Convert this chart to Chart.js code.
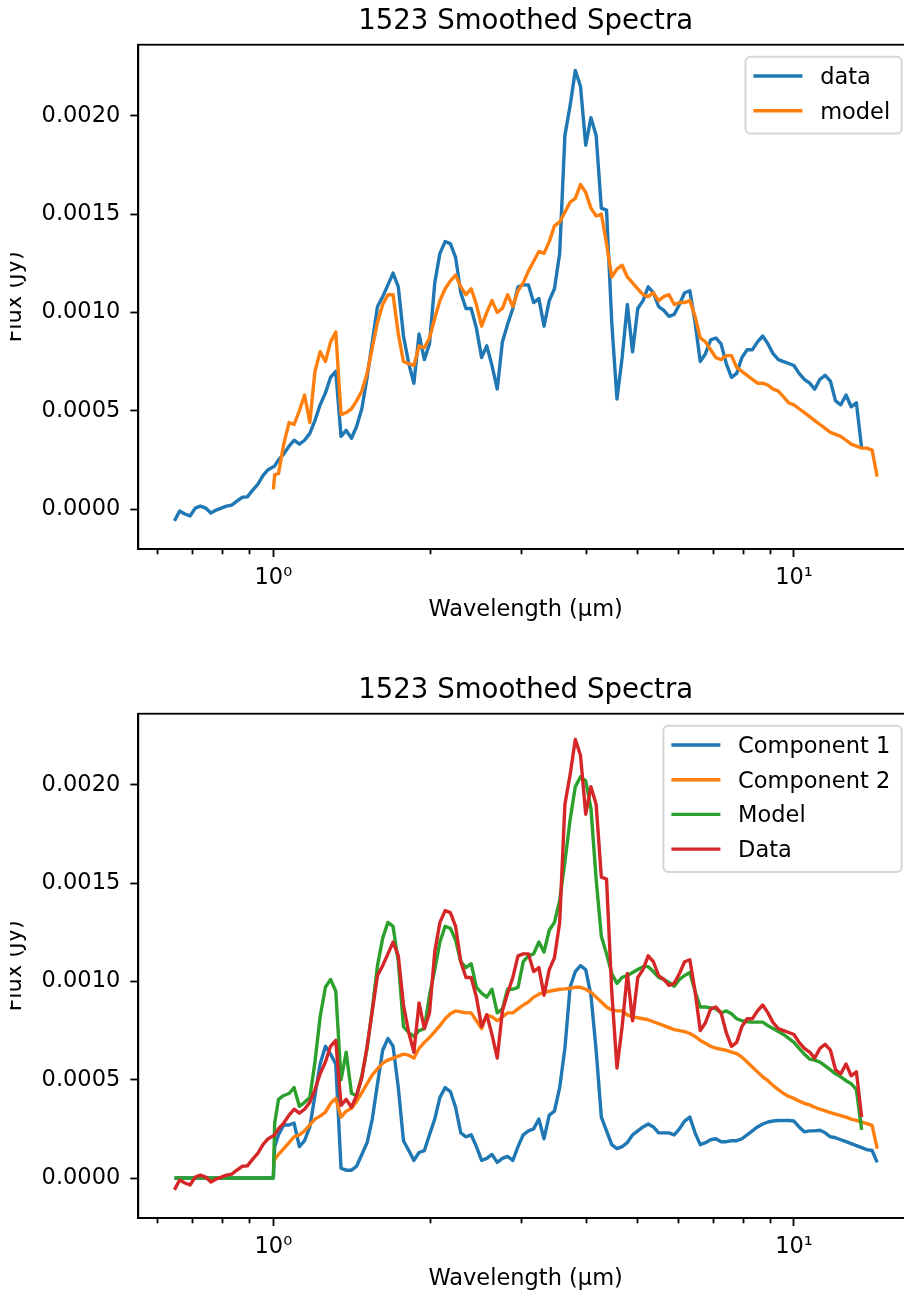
<!DOCTYPE html>
<html>
<head>
<meta charset="utf-8">
<title>1523 Smoothed Spectra</title>
<script src="https://cdn.jsdelivr.net/npm/chart.js@4.4.1/dist/chart.umd.min.js"></script>
<style>
  html, body { margin: 0; padding: 0; background: #fff; overflow: hidden; }
  body { width: 904px; height: 1294px; position: relative; }
  canvas { position: absolute; left: 10px; }
  #top { top: 0; }
  #bottom { top: 669px; }
</style>
</head>
<body>
<canvas id="top" width="910" height="625"></canvas>
<canvas id="bottom" width="910" height="625"></canvas>
<script>
// wavelength grid in micron
var wavelength = [0.6457,0.6607,0.6761,0.6918,0.7079,0.7244,0.7413,0.7586,0.7762,0.7943,0.8128,0.8318,0.8511,0.871,0.8913,0.912,0.9333,0.955,0.9772,
  1.0,1.006,1.023,1.047,1.072,1.096,1.122,1.148,1.175,1.202,1.23,1.259,1.288,1.318,1.349,1.38,1.413,1.445,1.479,1.514,1.549,
  1.585,1.622,1.66,1.698,1.738,1.778,1.82,1.862,1.905,1.95,1.995,2.042,2.089,2.138,2.188,2.239,2.291,2.344,2.399,2.455,
  2.512,2.57,2.63,2.692,2.754,2.818,2.884,2.951,3.02,3.09,3.162,3.236,3.311,3.388,3.467,3.548,3.631,3.715,3.802,3.89,
  3.981,4.074,4.169,4.266,4.365,4.467,4.571,4.677,4.786,4.898,5.012,5.129,5.248,5.37,5.495,5.623,5.754,5.888,6.026,6.166,
  6.31,6.457,6.607,6.761,6.918,7.079,7.244,7.413,7.586,7.762,7.943,8.128,8.318,8.511,8.71,8.913,9.12,9.333,9.55,9.772,
  10.0,10.23,10.47,10.72,10.96,11.22,11.48,11.75,12.02,12.3,12.59,12.88,13.18,13.49,13.8,14.13,14.45];

// smoothed fluxes in Jy
var dataFlux = [-0.6e-4,-0.1e-4,-0.25e-4,-0.35e-4,0.05e-4,0.15e-4,0.05e-4,-0.2e-4,-0.05e-4,0.05e-4,0.15e-4,0.2e-4,0.4e-4,0.6e-4,0.62e-4,0.95e-4,1.25e-4,1.7e-4,2.0e-4,
  2.15e-4,2.2e-4,2.5e-4,2.8e-4,3.2e-4,3.5e-4,3.3e-4,3.5e-4,3.85e-4,4.5e-4,5.3e-4,
  5.9e-4,6.7e-4,7.0e-4,3.7e-4,4.0e-4,3.6e-4,4.2e-4,5.1e-4,6.7e-4,8.5e-4,
  10.3e-4,10.8e-4,11.4e-4,12.0e-4,11.3e-4,8.8e-4,7.4e-4,6.4e-4,8.9e-4,7.6e-4,
  8.4e-4,11.5e-4,13.0e-4,13.6e-4,13.5e-4,12.8e-4,11.0e-4,10.2e-4,10.2e-4,9.2e-4,
  7.7e-4,8.3e-4,7.3e-4,6.1e-4,8.5e-4,9.4e-4,10.2e-4,11.3e-4,11.4e-4,11.4e-4,
  10.5e-4,10.7e-4,9.3e-4,10.6e-4,11.2e-4,13.0e-4,19.0e-4,20.5e-4,22.3e-4,21.5e-4,
  18.5e-4,19.9e-4,19.0e-4,15.3e-4,15.2e-4,9.5e-4,5.6e-4,7.7e-4,10.4e-4,8.0e-4,
  10.2e-4,10.6e-4,11.3e-4,11.0e-4,10.3e-4,10.1e-4,9.8e-4,9.9e-4,10.4e-4,11.0e-4,
  11.1e-4,9.5e-4,7.5e-4,7.9e-4,8.6e-4,8.7e-4,8.4e-4,7.4e-4,6.7e-4,6.9e-4,
  7.7e-4,8.1e-4,8.1e-4,8.5e-4,8.8e-4,8.4e-4,7.9e-4,7.6e-4,7.5e-4,7.4e-4,
  7.3e-4,6.9e-4,6.6e-4,6.4e-4,6.1e-4,6.6e-4,6.8e-4,6.5e-4,5.5e-4,5.3e-4,
  5.8e-4,5.2e-4,5.4e-4,3.1e-4,null,null,null];

var modelFlux = [null,null,null,null,null,null,null,null,null,null,null,null,null,null,null,null,null,null,null,
  1.0e-4,1.75e-4,1.8e-4,3.3e-4,4.4e-4,4.3e-4,5.0e-4,5.8e-4,4.4e-4,7.0e-4,8.0e-4,
  7.5e-4,8.5e-4,9.0e-4,4.8e-4,4.9e-4,5.1e-4,5.5e-4,6.0e-4,6.9e-4,8.2e-4,
  9.5e-4,10.4e-4,10.9e-4,10.9e-4,8.9e-4,7.5e-4,7.4e-4,7.3e-4,8.3e-4,8.2e-4,
  8.7e-4,9.7e-4,10.6e-4,11.2e-4,11.6e-4,11.9e-4,11.3e-4,10.9e-4,11.2e-4,10.4e-4,
  9.3e-4,10.0e-4,10.6e-4,10.0e-4,10.2e-4,10.9e-4,10.3e-4,11.1e-4,11.5e-4,12.1e-4,
  12.6e-4,13.1e-4,13.0e-4,13.6e-4,14.4e-4,14.6e-4,15.1e-4,15.6e-4,15.8e-4,16.5e-4,
  16.1e-4,15.3e-4,14.9e-4,15.0e-4,13.5e-4,11.8e-4,12.2e-4,12.4e-4,11.8e-4,11.5e-4,
  11.2e-4,10.9e-4,10.8e-4,11.0e-4,10.6e-4,10.8e-4,10.9e-4,10.4e-4,10.5e-4,10.5e-4,
  10.6e-4,9.8e-4,8.7e-4,8.5e-4,8.1e-4,7.7e-4,7.6e-4,7.8e-4,7.8e-4,7.2e-4,
  7.0e-4,6.8e-4,6.6e-4,6.4e-4,6.4e-4,6.3e-4,6.1e-4,6.0e-4,5.7e-4,5.4e-4,
  5.3e-4,5.1e-4,4.9e-4,4.7e-4,4.5e-4,4.3e-4,4.1e-4,3.9e-4,3.8e-4,3.7e-4,
  3.5e-4,3.3e-4,3.2e-4,3.1e-4,3.1e-4,3.0e-4,1.65e-4];

var comp1Flux = [0,0,0,0,0,0,0,0,0,0,0,0,0,0,0,0,0,0,0,
  0,1.6e-4,2.2e-4,2.7e-4,2.7e-4,2.8e-4,1.6e-4,1.9e-4,2.6e-4,4.2e-4,5.8e-4,
  6.7e-4,6.3e-4,5.8e-4,0.5e-4,0.4e-4,0.4e-4,0.6e-4,1.2e-4,1.8e-4,3.0e-4,
  4.8e-4,6.5e-4,7.1e-4,6.7e-4,4.6e-4,1.9e-4,1.4e-4,0.9e-4,1.3e-4,1.4e-4,
  2.2e-4,3.0e-4,4.1e-4,4.6e-4,4.4e-4,3.6e-4,2.3e-4,2.1e-4,2.2e-4,1.6e-4,
  0.9e-4,1.0e-4,1.2e-4,0.8e-4,1.0e-4,1.1e-4,0.9e-4,1.6e-4,2.2e-4,2.4e-4,
  2.5e-4,3.0e-4,2.0e-4,3.2e-4,3.4e-4,4.6e-4,6.6e-4,9.7e-4,10.5e-4,10.8e-4,
  10.6e-4,9.3e-4,6.5e-4,3.1e-4,2.4e-4,1.7e-4,1.5e-4,1.6e-4,1.8e-4,2.2e-4,
  2.4e-4,2.6e-4,2.75e-4,2.6e-4,2.3e-4,2.3e-4,2.3e-4,2.2e-4,2.5e-4,2.9e-4,
  3.1e-4,2.3e-4,1.7e-4,1.8e-4,1.95e-4,2.0e-4,1.85e-4,1.85e-4,1.9e-4,1.9e-4,
  2.0e-4,2.2e-4,2.4e-4,2.6e-4,2.75e-4,2.85e-4,2.9e-4,2.93e-4,2.93e-4,2.93e-4,
  2.9e-4,2.6e-4,2.35e-4,2.4e-4,2.4e-4,2.43e-4,2.3e-4,2.1e-4,2.05e-4,1.95e-4,
  1.85e-4,1.75e-4,1.65e-4,1.55e-4,1.45e-4,1.4e-4,0.8e-4];

var comp2Flux = [null,null,null,null,null,null,null,null,null,null,null,null,null,null,null,null,null,null,null,
  0.75e-4,0.95e-4,1.2e-4,1.5e-4,1.8e-4,2.1e-4,2.2e-4,2.4e-4,2.7e-4,3.0e-4,3.15e-4,
  3.35e-4,3.8e-4,4.05e-4,3.1e-4,3.4e-4,3.55e-4,3.9e-4,4.35e-4,4.8e-4,5.25e-4,
  5.55e-4,5.85e-4,6.0e-4,6.1e-4,6.2e-4,6.3e-4,6.25e-4,6.1e-4,6.6e-4,6.9e-4,
  7.15e-4,7.45e-4,7.75e-4,8.1e-4,8.35e-4,8.5e-4,8.45e-4,8.4e-4,8.4e-4,8.0e-4,
  7.6e-4,8.3e-4,8.2e-4,8.0e-4,8.2e-4,8.4e-4,8.4e-4,8.6e-4,8.8e-4,8.95e-4,
  9.2e-4,9.35e-4,9.45e-4,9.5e-4,9.55e-4,9.6e-4,9.62e-4,9.65e-4,9.7e-4,9.7e-4,
  9.6e-4,9.45e-4,9.2e-4,8.95e-4,8.7e-4,8.55e-4,8.5e-4,8.5e-4,8.3e-4,8.2e-4,
  8.15e-4,8.1e-4,8.05e-4,7.95e-4,7.85e-4,7.75e-4,7.65e-4,7.55e-4,7.5e-4,7.45e-4,
  7.35e-4,7.2e-4,7.0e-4,6.85e-4,6.7e-4,6.6e-4,6.55e-4,6.5e-4,6.4e-4,6.33e-4,
  6.15e-4,5.9e-4,5.65e-4,5.4e-4,5.15e-4,4.95e-4,4.7e-4,4.5e-4,4.3e-4,4.15e-4,
  4.05e-4,3.92e-4,3.8e-4,3.72e-4,3.6e-4,3.5e-4,3.42e-4,3.33e-4,3.25e-4,3.18e-4,
  3.1e-4,3.0e-4,2.93e-4,2.85e-4,2.77e-4,2.68e-4,1.5e-4];

var fitFlux = [0,0,0,0,0,0,0,0,0,0,0,0,0,0,0,0,0,0,0,
  0,2.8e-4,4.0e-4,4.2e-4,4.3e-4,4.6e-4,3.65e-4,3.85e-4,4.1e-4,5.9e-4,8.2e-4,
  9.7e-4,10.1e-4,9.5e-4,5.0e-4,6.4e-4,4.3e-4,4.2e-4,5.2e-4,6.6e-4,8.6e-4,
  10.8e-4,12.2e-4,13.0e-4,12.8e-4,11.0e-4,7.7e-4,7.4e-4,7.2e-4,7.5e-4,7.6e-4,
  9.3e-4,10.6e-4,12.0e-4,12.8e-4,12.7e-4,12.1e-4,11.0e-4,10.7e-4,10.9e-4,9.7e-4,
  9.4e-4,9.2e-4,9.6e-4,8.4e-4,8.6e-4,9.6e-4,9.6e-4,9.7e-4,11.0e-4,11.3e-4,
  11.4e-4,12.0e-4,11.5e-4,12.6e-4,13.0e-4,14.1e-4,16.1e-4,18.2e-4,19.9e-4,20.4e-4,
  20.2e-4,18.8e-4,15.2e-4,12.3e-4,11.4e-4,10.4e-4,9.9e-4,10.2e-4,10.3e-4,10.45e-4,
  10.6e-4,10.75e-4,10.75e-4,10.5e-4,10.2e-4,10.1e-4,9.95e-4,9.75e-4,10.1e-4,10.3e-4,
  10.45e-4,9.5e-4,8.7e-4,8.7e-4,8.65e-4,8.6e-4,8.4e-4,8.5e-4,8.35e-4,8.1e-4,
  8.0e-4,7.95e-4,7.93e-4,7.93e-4,7.93e-4,7.75e-4,7.6e-4,7.45e-4,7.3e-4,7.1e-4,
  6.9e-4,6.6e-4,6.3e-4,6.05e-4,6.0e-4,5.9e-4,5.7e-4,5.5e-4,5.3e-4,5.15e-4,
  4.95e-4,4.8e-4,4.5e-4,2.45e-4,null,null,null];

var xTicks = [0.6, 0.7, 0.8, 0.9, 1, 2, 3, 4, 5, 6, 7, 8, 9, 10];
var yTicks = [0, 0.0005, 0.001, 0.0015, 0.002];

var fontFamily = "'DejaVu Sans', sans-serif";
var fontSize = 22.5;

function isDecade(v) {
    var l = Math.log10(v);
    return Math.abs(l - Math.round(l)) < 1e-9;
}

// full box around the plot area
var frame = {
    id: "frame",
    afterDatasetsDraw: function(chart) {
        var a = chart.chartArea, ctx = chart.ctx;
        ctx.save();
        ctx.strokeStyle = "#000";
        ctx.lineWidth = 1.8;
        ctx.strokeRect(a.left, a.top, a.right - a.left, a.bottom - a.top);
        ctx.restore();
    }
};

// legend box in the upper right corner of the plot area
var legendBox = {
    id: "legendBox",
    afterDraw: function(chart) {
        var ctx = chart.ctx, a = chart.chartArea;
        var sets = chart.data.datasets;
        ctx.save();
        ctx.font = fontSize + "px " + fontFamily;
        var textW = 0;
        sets.forEach(function(ds) {
            textW = Math.max(textW, ctx.measureText(ds.label).width);
        });
        var w = 8 + 49 + 17.7 + textW + 11.5;
        var h = 19.3 + (sets.length - 1) * 34.7 + 22.9;
        var x0 = a.right - 11.3 - w;
        var y0 = a.top + 12;
        ctx.beginPath();
        ctx.roundRect(x0, y0, w, h, 5);
        ctx.fillStyle = "rgba(255,255,255,0.8)";
        ctx.fill();
        ctx.lineWidth = 2;
        ctx.strokeStyle = "rgba(204,204,204,0.8)";
        ctx.stroke();
        sets.forEach(function(ds, i) {
            var y = y0 + 19.3 + i * 34.7;
            ctx.beginPath();
            ctx.moveTo(x0 + 8, y);
            ctx.lineTo(x0 + 57, y);
            ctx.strokeStyle = ds.borderColor;
            ctx.lineWidth = 3.4;
            ctx.stroke();
            ctx.fillStyle = "#000";
            ctx.textBaseline = "middle";
            ctx.textAlign = "left";
            ctx.fillText(ds.label, x0 + 74.7, y + 2);
        });
        ctx.restore();
    }
};

function line(label, values, color, order) {
    return {
        label: label,
        data: values,
        borderColor: color,
        backgroundColor: color,
        borderWidth: 3.4,
        borderJoinStyle: "round",
        pointRadius: 0,
        fill: false,
        tension: 0,
        order: order
    };
}

function getSpectrumChart(ctx, datasets) {
    var font = { family: fontFamily, size: fontSize };
    var chart = new Chart(ctx, {
        type: "line",
        data: {
            labels: wavelength,
            datasets: datasets
        },
        options: {
            responsive: false,
            animation: false,
            events: [],
            layout: { padding: { left: 0, right: 7, top: 0, bottom: 0 } },
            plugins: {
                legend: { display: false },
                tooltip: { enabled: false },
                title: {
                    display: true,
                    fullSize: false,
                    text: "1523 Smoothed Spectra",
                    color: "#000",
                    font: { family: fontFamily, size: 27.6, weight: "normal" },
                    padding: { top: 5.6, bottom: 6 }
                }
            },
            scales: {
                x: {
                    type: "logarithmic",
                    min: 0.5503,
                    max: 16.93,
                    afterBuildTicks: function(scale) {
                        scale.ticks = xTicks.map(function(v) { return { value: v, major: isDecade(v) }; });
                    },
                    afterFit: function(scale) { scale.height = 76; },
                    ticks: {
                        autoSkip: false,
                        maxRotation: 0,
                        minRotation: 0,
                        color: "#000",
                        font: font,
                        padding: 8,
                        callback: function(v) {
                            if (v === 1) return "10\u2070";
                            if (v === 10) return "10\u00B9";
                            return "";
                        }
                    },
                    grid: {
                        drawOnChartArea: false,
                        color: "#000",
                        tickLength: 8,
                        tickWidth: 1.8,
                        tickBorderDash: function(c) {
                            return c.tick && isDecade(c.tick.value) ? [] : [4.5, 20];
                        }
                    },
                    border: { color: "#000", width: 1.8 },
                    title: {
                        display: true,
                        text: "Wavelength (\u03BCm)",
                        color: "#000",
                        font: font,
                        padding: { top: 0, bottom: 1 }
                    }
                },
                y: {
                    min: -2.03e-4,
                    max: 2.361e-3,
                    afterBuildTicks: function(scale) {
                        scale.ticks = yTicks.map(function(v) { return { value: v }; });
                    },
                    afterFit: function(scale) { scale.width = 128.3; },
                    ticks: {
                        color: "#000",
                        font: font,
                        padding: 10,
                        callback: function(v) { return v.toFixed(4); }
                    },
                    grid: {
                        drawOnChartArea: false,
                        color: "#000",
                        tickLength: 8,
                        tickWidth: 1.8
                    },
                    border: { color: "#000", width: 1.8 },
                    title: {
                        display: true,
                        text: "Flux (Jy)",
                        color: "#000",
                        font: font,
                        padding: { top: -8.2, bottom: 0 }
                    }
                }
            }
        },
        plugins: [frame, legendBox]
    });
    return chart;
}

getSpectrumChart(document.getElementById("top"), [
    line("data", dataFlux, "#1f77b4", 2),
    line("model", modelFlux, "#ff7f0e", 1)
]);

getSpectrumChart(document.getElementById("bottom"), [
    line("Component 1", comp1Flux, "#1f77b4", 4),
    line("Component 2", comp2Flux, "#ff7f0e", 3),
    line("Model", fitFlux, "#2ca02c", 2),
    line("Data", dataFlux, "#d62728", 1)
]);
</script>
</body>
</html>
